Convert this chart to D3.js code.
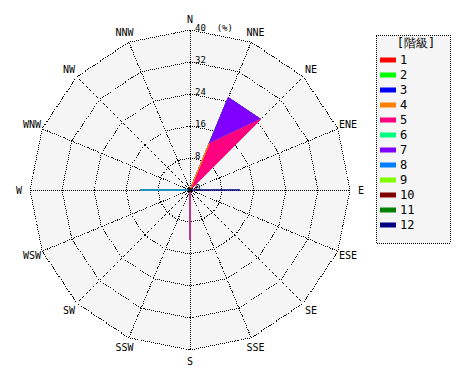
<!DOCTYPE html>
<html>
<head>
<meta charset="utf-8">
<script src="https://cdn.jsdelivr.net/npm/d3@7"></script>
<style>
  body { margin: 0; background: #fff; }
  text { font-family: "DejaVu Sans Mono", monospace; fill: #000; }
</style>
</head>
<body>
<div class="chart"></div>
<script>
// 16 bearings, clockwise from north
var directions = ["N", "NNE", "NE", "ENE", "E", "ESE", "SE", "SSE",
                  "S", "SSW", "SW", "WSW", "W", "WNW", "NW", "NNW"];

var classes = ["1", "2", "3", "4", "5", "6", "7", "8", "9", "10", "11", "12"];
var colors = ["#ff0000", "#00ff00", "#0000ff", "#ff8000", "#ff0080", "#00ff80",
              "#8000ff", "#0080ff", "#80ff00", "#800000", "#008000", "#000080"];

// frequency (%) per class, per bearing (N .. NNW)
var class1  = [0, 0, 0, 0, 0, 0, 0, 0, 0, 0, 0, 0, 0, 0, 0, 0];
var class2  = [0, 0, 0, 0, 0, 0, 0, 0, 0, 0, 0, 0, 0, 0, 0, 0];
var class3  = [0, 0, 0, 0, 0, 0, 0, 0, 0, 0, 0, 0, 0, 0, 0, 0];
var class4  = [0, 12.5, 0, 0, 0, 0, 0, 0, 0, 0, 0, 0, 0, 0, 0, 0];
var class5  = [0, 0, 25, 0, 0, 0, 0, 0, 12.5, 0, 0, 0, 0, 0, 0, 0];
var class6  = [0, 0, 0, 0, 0, 0, 0, 0, 0, 0, 0, 0, 0, 0, 0, 0];
var class7  = [0, 12.5, 0, 0, 0, 0, 0, 0, 0, 0, 0, 0, 0, 0, 0, 0];
var class8  = [0, 0, 0, 0, 0, 0, 0, 0, 0, 0, 0, 0, 12.5, 0, 0, 0];
var class9  = [0, 0, 0, 0, 0, 0, 0, 0, 0, 0, 0, 0, 0, 0, 0, 0];
var class10 = [0, 0, 0, 0, 0, 0, 0, 0, 0, 0, 0, 0, 0, 0, 0, 0];
var class11 = [0, 0, 0, 0, 0, 0, 0, 0, 0, 0, 0, 0, 0, 0, 0, 0];
var class12 = [0, 0, 0, 0, 12.5, 0, 0, 0, 0, 0, 0, 0, 0, 0, 0, 0];

var ringTicks = [0, 8, 16, 24, 32, 40];
var legendTitle = "[階級]";

var classValues = [class1, class2, class3, class4, class5, class6,
                   class7, class8, class9, class10, class11, class12];

var svgWidth = 470;
var svgHeight = 380;
var cx = 190, cy = 190, radius = 160;

var svg = d3.select(".chart")
  .append("svg")
  .attr("width", svgWidth)
  .attr("height", svgHeight);

var rScale = d3.scaleLinear().domain([0, 40]).range([0, radius]);
var aScale = d3.scaleLinear().domain([0, 16]).range([0, 2 * Math.PI]);

var plot = svg.append("g")
  .attr("transform", `translate(${cx}, ${cy})`);

// polygon grid helper
var ring = d3.lineRadial()
  .angle((d, i) => aScale(i))
  .radius(d => rScale(d))
  .curve(d3.curveLinearClosed);

// background
plot.append("path")
  .attr("d", ring(directions.map(() => 40)))
  .attr("fill", "#f5f5f5");

// rings
ringTicks.slice(1).forEach(function (t) {
  plot.append("path")
    .attr("d", ring(directions.map(() => t)))
    .attr("fill", "none")
    .attr("stroke", "#000")
    .attr("stroke-dasharray", "1,1")
    .attr("shape-rendering", "crispEdges");
});

// spokes
plot.selectAll("line.spoke")
  .data(directions)
  .enter()
  .append("line")
  .attr("class", "spoke")
  .attr("x1", 0).attr("y1", 0)
  .attr("x2", (d, i) => rScale(40) * Math.sin(aScale(i)))
  .attr("y2", (d, i) => -rScale(40) * Math.cos(aScale(i)))
  .attr("stroke", "#000")
  .attr("stroke-dasharray", "1,1")
  .attr("shape-rendering", "crispEdges");

// stacked table
var table = directions.map(function (dir, i) {
  var row = { dir: dir };
  classes.forEach((c, k) => { row[c] = classValues[k][i]; });
  return row;
});
var stacked = d3.stack().keys(classes)(table);

var area = d3.lineRadial()
  .angle((d, i) => aScale(i))
  .radius(d => rScale(d[1]))
  .curve(d3.curveLinearClosed);

// draw biggest first so lower classes sit on top
plot.selectAll("path.petal")
  .data(stacked.slice().reverse())
  .enter()
  .append("path")
  .attr("class", "petal")
  .attr("d", d => area(d))
  .attr("fill", d => colors[d.index])
  .attr("stroke", d => colors[d.index])
  .attr("stroke-width", 1);

plot.append("circle")
  .attr("r", 2)
  .attr("fill", "#000");

// ring labels
plot.selectAll("text.tick")
  .data(ringTicks)
  .enter()
  .append("text")
  .attr("class", "tick")
  .attr("x", 5)
  .attr("y", d => -rScale(d) + 1)
  .style("font-size", "9px")
  .style("white-space", "pre")
  .text(d => d == 40 ? "40  (%)" : d);

// direction labels
plot.selectAll("text.dir")
  .data(directions)
  .enter()
  .append("text")
  .attr("class", "dir")
  .attr("x", (d, i) => 171 * Math.sin(aScale(i)))
  .attr("y", (d, i) => -171 * Math.cos(aScale(i)))
  .attr("text-anchor", "middle")
  .attr("dy", "0.35em")
  .style("font-size", "10px")
  .text(d => d);

// legend
var legend = svg.append("g")
  .attr("transform", "translate(376, 35)");

legend.append("rect")
  .attr("x", 0).attr("y", 0)
  .attr("width", 74).attr("height", 208)
  .attr("fill", "#f5f5f5")
  .attr("stroke", "#000")
  .attr("stroke-dasharray", "1,1")
  .attr("shape-rendering", "crispEdges");

legend.append("text")
  .attr("x", 40).attr("y", 12)
  .attr("text-anchor", "middle")
  .style("font-size", "12px")
  .text(legendTitle);

var items = legend.selectAll("g.item")
  .data(classes)
  .enter()
  .append("g")
  .attr("class", "item")
  .attr("transform", (d, i) => `translate(4, ${24.5 + i * 15})`);

items.append("rect")
  .attr("x", 0).attr("y", -2)
  .attr("width", 16).attr("height", 5)
  .attr("fill", (d, i) => colors[i]);

items.append("text")
  .attr("x", 20).attr("y", 4.5)
  .style("font-size", "12px")
  .text(d => d);
</script>
</body>
</html>
